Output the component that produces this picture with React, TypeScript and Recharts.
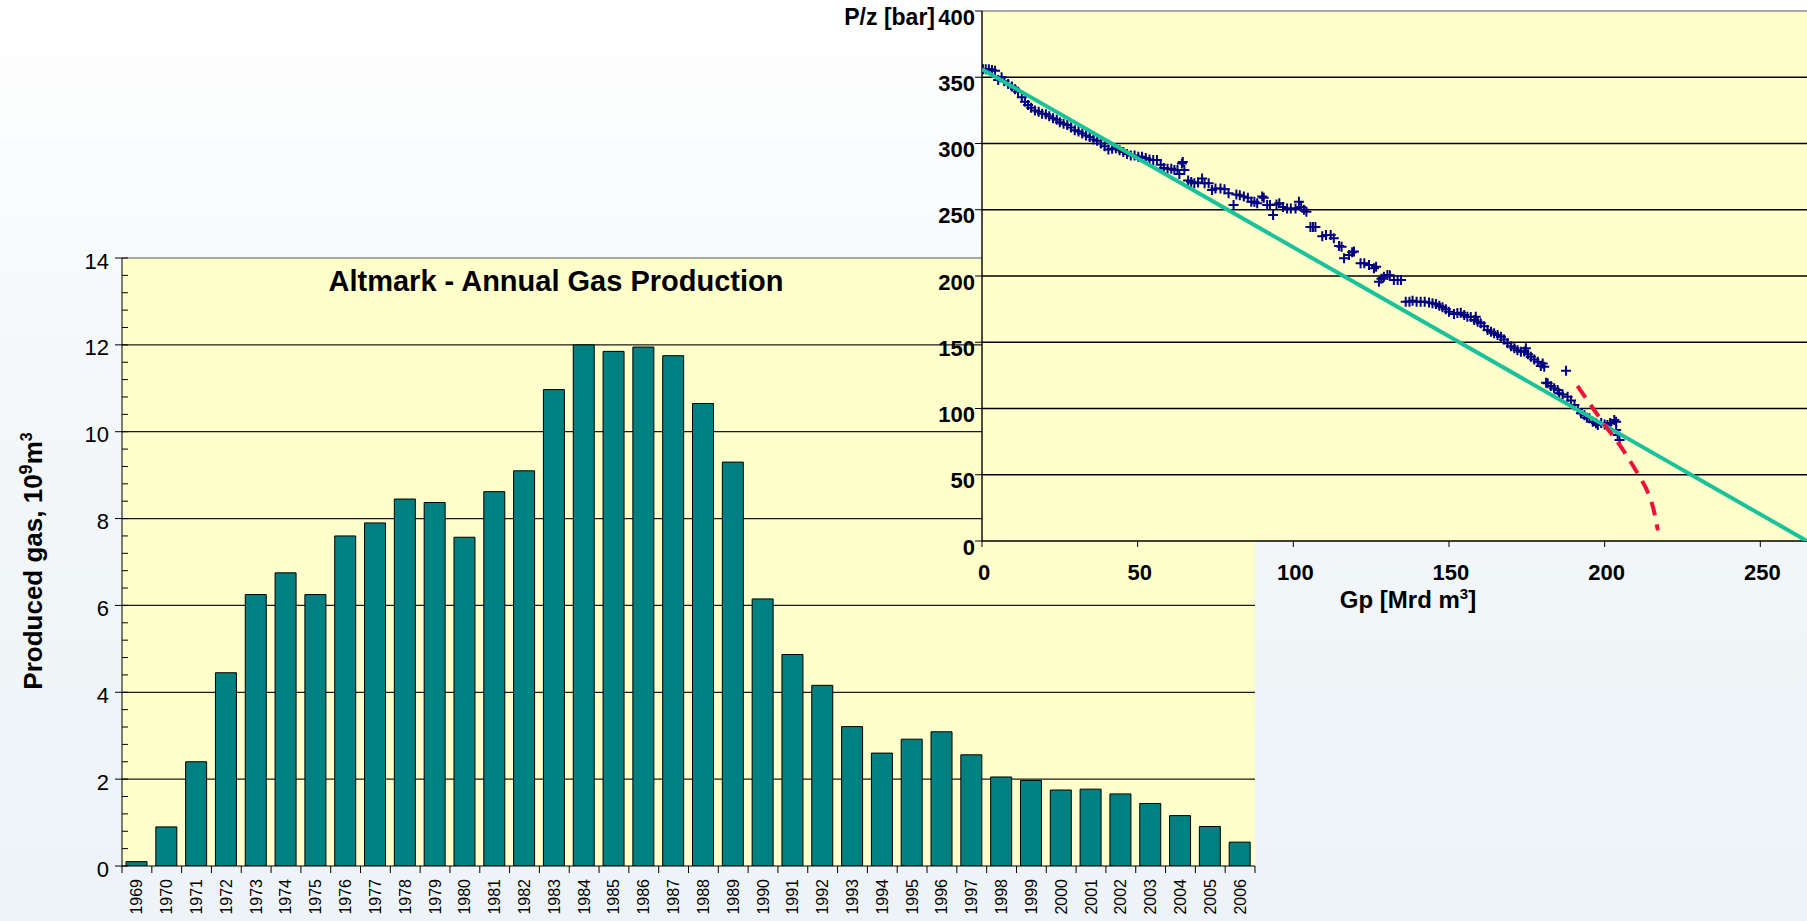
import React from "react"
import {
  BarChart,
  Bar,
  ScatterChart,
  Scatter,
  XAxis,
  YAxis,
  CartesianGrid,
  ReferenceLine,
} from "recharts"

// ---- annual production (10^9 m3) ----
const YEARS = [
  "1969", "1970", "1971", "1972", "1973", "1974", "1975", "1976", "1977", "1978",
  "1979", "1980", "1981", "1982", "1983", "1984", "1985", "1986", "1987", "1988",
  "1989", "1990", "1991", "1992", "1993", "1994", "1995", "1996", "1997", "1998",
  "1999", "2000", "2001", "2002", "2003", "2004", "2005", "2006",
]
const GAS = [
  0.1, 0.9, 2.4, 4.45, 6.25, 6.75, 6.25, 7.6, 7.9, 8.45,
  8.37, 7.57, 8.62, 9.1, 10.97, 12.0, 11.85, 11.95, 11.75, 10.65,
  9.3, 6.15, 4.87, 4.16, 3.21, 2.6, 2.92, 3.09, 2.56, 2.05,
  1.97, 1.75, 1.77, 1.66, 1.44, 1.16, 0.91, 0.55,
]
const GAS_TICKS = [0, 2, 4, 6, 8, 10, 12, 14]
const GAS_GRID = [2, 4, 6, 8, 10, 12]

// ---- P/z vs cumulative production ----
const PZ_POINTS: [number, number][] = [
  [0.3, 356], [1.2, 356], [2.2, 356], [3.2, 355.5], [4.2, 355], [5.2, 348], [6.3, 350], [7.2, 347],
  [8.4, 345], [9.6, 343], [10.6, 341], [11.6, 339], [12.8, 335], [13.8, 331.5], [14.8, 329], [15.8, 327],
  [17, 325], [18.2, 324], [19.3, 322.5], [20.5, 322], [21.6, 320.5], [22.8, 319], [24, 318], [25, 316],
  [26.2, 315], [27.4, 314], [28.6, 312], [29.8, 310], [31, 309], [32.2, 307.5], [33.4, 306], [34.6, 305],
  [35.8, 303], [37, 302], [38.2, 300], [39.4, 298], [40.6, 295.5], [41.8, 296], [43, 296.5], [44.2, 295],
  [45.4, 293.5], [46.6, 292], [47.8, 291], [49, 291], [50.2, 290], [51.4, 290], [52.6, 289], [53.8, 288],
  [55, 287.5], [56.2, 287.5], [57.4, 284], [58.4, 281.5], [59.6, 281], [60.8, 281], [61.8, 280], [62.8, 280],
  [63.4, 277], [64.2, 285], [64.5, 286], [65, 280], [66.2, 272], [67.2, 271], [68.2, 270], [69.4, 270.5],
  [70.7, 273.5], [71.5, 270], [72.8, 270], [73.9, 265], [75, 266], [76.6, 266], [77.9, 265.5], [79.2, 262.5],
  [80.8, 253.6], [81.7, 261.5], [82.8, 261], [84.1, 260], [85.4, 259], [86.5, 256], [87.5, 256], [88.4, 255],
  [90, 260], [90.5, 259], [91.6, 253.6], [92.5, 253.5], [93.5, 246], [94.6, 254], [95.5, 255], [96.7, 252],
  [98, 251], [99.2, 251], [100.7, 251], [101.8, 256], [102.5, 252], [103.4, 250], [104.2, 248.5], [105.5, 237],
  [106.3, 237], [107.1, 237], [109.3, 230], [110.5, 231], [112, 231], [113, 228.4], [114.7, 222.6], [115.5, 222],
  [116.3, 213.4], [117.9, 215.8], [118.9, 218], [119.5, 218.4], [121.6, 209.6], [122.8, 209.6], [124.3, 208.3],
  [125.9, 205.8], [126.6, 207], [127.5, 195.7], [128.3, 198], [129.1, 199.5], [130.2, 200.8], [131, 200.5],
  [132.3, 197], [133.5, 197], [134.6, 197], [136.1, 180.6], [137.3, 180.6], [138.3, 181.4], [139.6, 180.6],
  [140.9, 180.6], [142.2, 180.5], [143.6, 180], [144.7, 179.5], [145.8, 178.9], [146.9, 177.5], [147.9, 176.4],
  [149, 175], [150, 173.1], [151.6, 171.3], [152.7, 172], [153.8, 172.3], [154.9, 170.5], [155.9, 169.3],
  [157, 169], [158.1, 166.8], [158.6, 169.3], [159.2, 165.5], [160.2, 164.3], [161.3, 162], [162.4, 159.2],
  [163.5, 158], [164.5, 156.8], [165.6, 155.5], [166.7, 154.2], [167.7, 152], [168.8, 149.2], [169.9, 147],
  [171, 145.4], [172, 144], [173.1, 142.9], [174.2, 143], [174.7, 145.4], [175.4, 141], [176.3, 139.1],
  [177.4, 137], [178.5, 135.3], [179.5, 132], [180.1, 134], [180.6, 131.5], [181.2, 119.5], [181.7, 119],
  [182.7, 117], [183.8, 115.2], [184.9, 114], [185.4, 111.5], [186.5, 110.5], [187.6, 128.5], [188.1, 108.9],
  [189.2, 106], [190.3, 102.6], [191.4, 99.5], [192.4, 96.4], [193.5, 95], [194.3, 93], [195.1, 92.6],
  [196.2, 90], [197.2, 88.8], [197.8, 87.5], [198.9, 89], [200, 88], [200.9, 87.5], [201.8, 89],
  [203.1, 91.3], [203.7, 90], [203.7, 83.8], [204.2, 80], [204.8, 76.2],
]
const PZ_FIT: [number, number][] = [[0, 356], [265, 0]]
const PZ_LATE: [number, number][] = [
  [191.3, 117], [196.3, 100], [200.5, 86], [204.7, 73], [208, 61], [211.2, 48.5], [214, 36], [215.8, 23], [217.1, 8],
]
const PZ_TICKS = [0, 50, 100, 150, 200, 250, 300, 350, 400]
const PZ_GRID = [50, 100, 150, 200, 250, 300, 350]
const GP_TICKS = [0, 50, 100, 150, 200, 250]

const FONT = "'Liberation Sans', Arial, sans-serif"
const YELLOW = "#FFFFCC"

// left chart plot box
const L_LEFT = 122
const L_RIGHT = 1255
const BAND = (L_RIGHT - L_LEFT) / YEARS.length
const GAS_MINOR = Array.from({ length: 36 }, (_, i) => Math.round(i * 4) / 10)

const gasData = YEARS.map((year, i) => ({ year, gas: GAS[i] }))
const toXY = (pts: [number, number][]) => pts.map(([gp, pz]) => ({ gp, pz }))

function GasTick(props: any) {
  const { x, y, payload } = props
  const v = payload.value
  if (!GAS_TICKS.includes(v)) {
    return <line x1={x} x2={x + 6} y1={y} y2={y} stroke="#000" />
  }
  return (
    <g>
      <line x1={x - 7} x2={x + 6} y1={y} y2={y} stroke="#000" />
      <text x={x - 13} y={y + 3} textAnchor="end" dominantBaseline="central" fontSize={22} fontFamily={FONT} fill="#000">
        {v}
      </text>
    </g>
  )
}

function YearTick(props: any) {
  const { x, y, payload, index } = props
  const h = BAND / 2
  return (
    <g>
      <line x1={x - h} x2={x - h} y1={y} y2={y + 7} stroke="#000" />
      {index === YEARS.length - 1 && <line x1={x + h} x2={x + h} y1={y} y2={y + 7} stroke="#000" />}
      <text
        x={x}
        y={y + 13}
        transform={`rotate(-90 ${x} ${y + 13})`}
        textAnchor="end"
        dominantBaseline="central"
        fontSize={16}
        fontFamily={FONT}
        fill="#000"
      >
        {payload.value}
      </text>
    </g>
  )
}

function PzTick(props: any) {
  const { x, y, payload } = props
  return (
    <text x={x} y={y + 6} textAnchor="end" dominantBaseline="central" fontSize={22} fontWeight="bold" fontFamily={FONT} fill="#000">
      {payload.value}
    </text>
  )
}

function GpTick(props: any) {
  const { x, y, payload } = props
  return (
    <text x={x + 2} y={y + 17} textAnchor="middle" fontSize={22} fontWeight="bold" fontFamily={FONT} fill="#000">
      {payload.value}
    </text>
  )
}

function PlusMark(props: any) {
  const { cx, cy } = props
  return <path d={`M${cx - 5},${cy}H${cx + 5}M${cx},${cy - 5}V${cy + 5}`} stroke="#000080" strokeWidth={2} fill="none" />
}

const NoDot = () => <g />

export default function App() {
  return (
    <div
      style={{
        position: "absolute",
        left: 0,
        top: 0,
        width: 1807,
        height: 921,
        overflow: "hidden",
        fontFamily: FONT,
        background: "linear-gradient(180deg, #ffffff 0%, #f3f7fa 45%, #edf3f7 100%)",
      }}
    >
      <div style={{ position: "absolute", left: 0, top: 0 }}>
        <BarChart width={1300} height={921} data={gasData} margin={{ top: 258, right: 45, bottom: 0, left: 62 }} barSize={21}>
          <CartesianGrid vertical={false} horizontalValues={GAS_GRID} stroke="#1a1a1a" strokeWidth={1.2} fill={YELLOW} />
          <ReferenceLine y={14} stroke="#8c8c8c" strokeWidth={1.5} />
          <XAxis
            dataKey="year"
            interval={0}
            height={55}
            tickLine={false}
            tickSize={0}
            tickMargin={0}
            axisLine={{ stroke: "#000" }}
            tick={YearTick}
          />
          <YAxis
            type="number"
            domain={[0, 14]}
            ticks={GAS_MINOR}
            interval={0}
            width={60}
            tickLine={false}
            tickSize={0}
            tickMargin={0}
            axisLine={{ stroke: "#000" }}
            tick={GasTick}
            allowDataOverflow
          />
          <YAxis yAxisId="edge" orientation="right" width={0} tick={false} tickLine={false} axisLine={{ stroke: "#8c8c8c", strokeWidth: 1.5 }} />
          <Bar dataKey="gas" fill="#008080" stroke="#000" strokeWidth={1} isAnimationActive={false} />
        </BarChart>
      </div>

      <div style={{ position: "absolute", left: 820, top: 0 }}>
        <ScatterChart width={987} height={620} margin={{ top: 11, right: 0, bottom: 0, left: 102 }}>
          <CartesianGrid vertical={false} horizontalValues={PZ_GRID} stroke="#000" strokeWidth={1.4} fill={YELLOW} />
          <ReferenceLine y={400} stroke="#8c8c8c" strokeWidth={1.5} />
          <XAxis
            type="number"
            dataKey="gp"
            domain={[0, 265]}
            ticks={GP_TICKS}
            interval={0}
            height={79}
            tickSize={6}
            tickMargin={16}
            axisLine={{ stroke: "#000", strokeWidth: 1.4 }}
            tickLine={{ stroke: "#000" }}
            tick={GpTick}
            allowDataOverflow
          />
          <YAxis
            type="number"
            dataKey="pz"
            domain={[0, 400]}
            ticks={PZ_TICKS}
            interval={0}
            width={60}
            tickSize={7}
            tickMargin={0}
            axisLine={{ stroke: "#000", strokeWidth: 1.4 }}
            tickLine={{ stroke: "#000" }}
            tick={PzTick}
            allowDataOverflow
          />
          <Scatter data={toXY(PZ_POINTS)} shape={PlusMark} isAnimationActive={false} />
          <Scatter data={toXY(PZ_FIT)} shape={NoDot} line={{ stroke: "#19C29B", strokeWidth: 4 }} isAnimationActive={false} />
          <Scatter
            data={toXY(PZ_LATE)}
            shape={NoDot}
            line={{ stroke: "#F0103C", strokeWidth: 4, strokeDasharray: "14 9" }}
            lineJointType="monotoneX"
            isAnimationActive={false}
          />
        </ScatterChart>
      </div>

      <svg width={1807} height={921} style={{ position: "absolute", left: 0, top: 0, pointerEvents: "none" }}>
        <text x={556} y={291} textAnchor="middle" fontSize={29} fontWeight="bold" fontFamily={FONT} fill="#000">
          Altmark - Annual Gas Production
        </text>
        <text
          x={42}
          y={561}
          transform="rotate(-90 42 561)"
          textAnchor="middle"
          fontSize={26}
          fontWeight="bold"
          fontFamily={FONT}
          fill="#000"
        >
          Produced gas, 10
          <tspan dy={-10} fontSize={18}>9</tspan>
          <tspan dy={10}>m</tspan>
          <tspan dy={-10} fontSize={16}>3</tspan>
        </text>
        <text x={935} y={25} textAnchor="end" fontSize={23} fontWeight="bold" fontFamily={FONT} fill="#000">
          P/z [bar]
        </text>
        <text x={1408} y={608} textAnchor="middle" fontSize={24} fontWeight="bold" fontFamily={FONT} fill="#000">
          Gp [Mrd m<tspan dy={-9} fontSize={15}>3</tspan>
          <tspan dy={9}>]</tspan>
        </text>
      </svg>
    </div>
  )
}
